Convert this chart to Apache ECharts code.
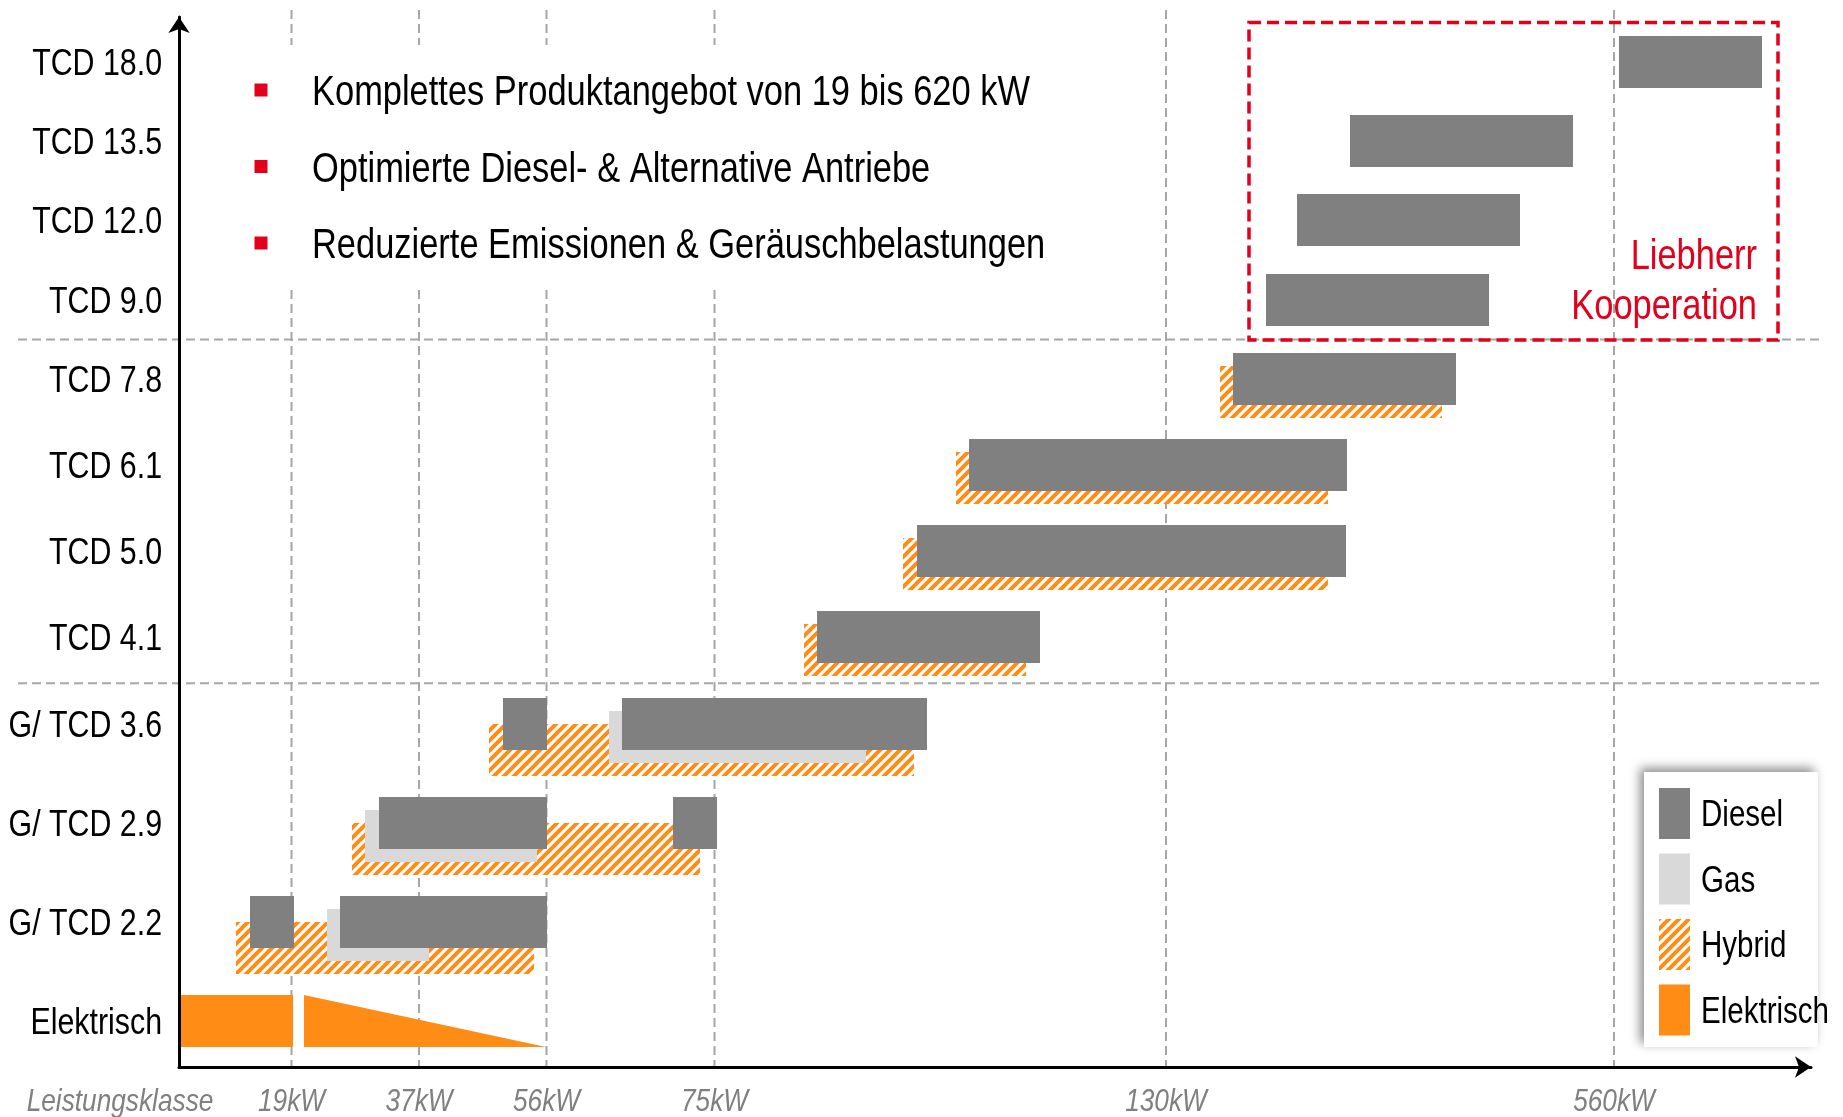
<!DOCTYPE html>
<html>
<head>
<meta charset="utf-8">
<script src="https://cdn.jsdelivr.net/npm/echarts@6/dist/echarts.min.js"></script>
<style>html,body{margin:0;padding:0;background:#fff;}#chart{width:1843px;height:1117px;}</style>
</head>
<body>
<div id="chart"></div>
<script>
// ---------- DATA ----------
// Rows (bottom to top) and their positions on the vertical axis (axis units)
const rowNames = ['Elektrisch','G/ TCD 2.2','G/ TCD 2.9','G/ TCD 3.6','TCD 4.1','TCD 5.0','TCD 6.1','TCD 7.8','TCD 9.0','TCD 12.0','TCD 13.5','TCD 18.0'];
const rowPos   = [46, 145, 244, 343, 430, 516, 602, 688, 767, 847, 926, 1005];
// Power class ticks on the horizontal axis (axis units)
const xTickPos    = [112.5, 240, 367.5, 535.5, 987, 1435];
const xTickLabels = ['19kW', '37kW', '56kW', '75kW', '130kW', '560kW'];
// Bars: [rowIndex, start, end]
const dieselBars = [[1,71,115],[1,161,368],[2,200,368],[2,494,538],[3,324,368],[3,443,748],[4,638,861],[5,738,1167],[6,790,1168],[7,1054,1277],[8,1087,1310],[9,1118,1341],[10,1171,1394],[11,1440,1583]];
const gasBars    = [[1,148,250],[2,186,358],[3,430,687]];
const hybridBars = [[1,57,355],[2,173,521],[3,310,735],[4,625,847],[5,724,1149],[6,777,1149],[7,1041,1263]];
// Electric: [rowIndex, start, end, shape]
const elektrischBars = [[0,0,114,'full'],[0,125,367,'ramp']];
// Section separators (vertical axis units)
const sectionSeps = [383.7, 727.5];
// Liebherr cooperation frame: [x0, x1, y0, y1]
const liebherrBox = [1070, 1599, 727, 1044.5];
const bullets = ['Komplettes Produktangebot von 19 bis 620 kW', 'Optimierte Diesel- & Alternative Antriebe', 'Reduzierte Emissionen & Geräuschbelastungen'];
const legendNames = ['Diesel', 'Gas', 'Hybrid', 'Elektrisch'];
const xAxisTitle = 'Leistungsklasse';

// ---------- STYLE ----------
const FONT = "'Liberation Sans',Arial,sans-serif";
const NARROW = 0.82; // horizontal condensing to mimic Arial Narrow
const C_DIESEL = '#808080', C_GAS = '#D9D9D9', C_ORANGE = '#FF8C14', C_RED = '#E3001B', C_GRID = '#A6A6A6';
const BAR_H = 52, STEP = 13;

function makeHatch() {
  const c = document.createElement('canvas');
  c.width = 10; c.height = 10;
  const g = c.getContext('2d');
  g.fillStyle = '#fff'; g.fillRect(0, 0, 10, 10);
  g.strokeStyle = C_ORANGE; g.lineWidth = 4;
  g.beginPath();
  g.moveTo(-5, 5); g.lineTo(5, -5);
  g.moveTo(0, 10); g.lineTo(10, 0);
  g.moveTo(5, 15); g.lineTo(15, 5);
  g.stroke();
  return { image: c, repeat: 'repeat' };
}
const HATCH = makeHatch();
const legendColors = { Diesel: C_DIESEL, Gas: C_GAS, Hybrid: HATCH, Elektrisch: C_ORANGE };

const gasRows = gasBars.map(b => b[0]);
function toData(arr) { return arr.map(b => [b[1], b[2], rowPos[b[0]], b[0], b[3] || 'full']); }

function barRender(fill, offsetFn) {
  return function (params, api) {
    const s = api.value(0), e = api.value(1), y = api.value(2), row = api.value(3);
    const p0 = api.coord([s, y]), p1 = api.coord([e, y]);
    const h = api.size([0, BAR_H])[1];
    const off = offsetFn(row);
    return { type: 'rect', shape: { x: p0[0], y: p0[1] - h / 2 + off, width: p1[0] - p0[0], height: h }, style: { fill: fill } };
  };
}
function narrowText(text, x, y, font, fill, align, z) {
  return { type: 'text', z: z || 51, x: x, y: y, scaleX: NARROW,
    style: { text: text, x: 0, y: 0, font: font, fill: fill, align: align, verticalAlign: 'middle' } };
}

const chart = echarts.init(document.getElementById('chart'), null, { renderer: 'canvas' });

const option = {
  animation: false,
  backgroundColor: '#fff',
  grid: { left: 179, right: 32, top: 17, bottom: 50, containLabel: false, outerBoundsMode: 'none' },
  xAxis: {
    type: 'value', min: 0, max: 1632, z: 10,
    axisLine: { show: true, onZero: false, symbol: ['none', 'arrow'], symbolSize: [16, 16], lineStyle: { color: '#000', width: 3 } },
    axisTick: { show: false }, splitLine: { show: false }, axisLabel: { show: false }
  },
  yAxis: {
    type: 'value', min: 0, max: 1050, z: 10,
    axisLine: { show: true, onZero: false, symbol: ['none', 'arrow'], symbolSize: [16, 16], lineStyle: { color: '#000', width: 3 } },
    axisTick: { show: false }, splitLine: { show: false }, axisLabel: { show: false }
  },
  legend: {
    orient: 'vertical', left: 1659, top: 788, padding: 0,
    itemWidth: 31, itemHeight: 51, itemGap: 14.5, icon: 'rect', selectedMode: false,
    itemStyle: { borderWidth: 0 },
    formatter: () => '',
    data: legendNames.map(n => ({ name: n, itemStyle: { color: legendColors[n] } }))
  },
  graphic: [
    { type: 'rect', z: 3, shape: { x: 1644, y: 772, width: 174, height: 275 },
      style: { fill: '#fff', shadowBlur: 10, shadowColor: 'rgba(0,0,0,0.45)', shadowOffsetX: -4, shadowOffsetY: -4 } },
    ...legendNames.map((n, i) => narrowText(n, 1701, 816.5 + i * 65.5, '36px ' + FONT, '#000', 'left')),
    { type: 'rect', z: 50, shape: { x: 235, y: 45, width: 830, height: 245 }, style: { fill: '#fff' } },
    ...bullets.map((t, i) => ({ type: 'rect', z: 51, shape: { x: 254.5, y: 83.5 + i * 76.5, width: 13, height: 13 }, style: { fill: C_RED } })),
    ...bullets.map((t, i) => narrowText(t, 312, 93.5 + i * 76.5, '42px ' + FONT, '#000', 'left')),
    narrowText('Liebherr', 1757, 257.5, '42px ' + FONT, C_RED, 'right'),
    narrowText('Kooperation', 1757, 307.5, '42px ' + FONT, C_RED, 'right'),
    narrowText(xAxisTitle, 120, 1102, 'italic 32px ' + FONT, '#808080', 'center')
  ],
  series: [
    { type: 'custom', name: 'grid-v', z: 1, silent: true, data: xTickPos.map(v => [v]),
      encode: { x: 0 },
      renderItem: (params, api) => {
        const p = api.coord([api.value(0), 0]);
        const cs = params.coordSys;
        return { type: 'line', shape: { x1: p[0], y1: cs.y - 7, x2: p[0], y2: cs.y + cs.height },
          style: { stroke: C_GRID, lineWidth: 2, lineDash: [9, 5] } };
      } },
    { type: 'custom', name: 'grid-h', z: 1, silent: true, data: sectionSeps.map(v => [0, v]),
      encode: { x: 0, y: 1 },
      renderItem: (params, api) => {
        const p = api.coord([0, api.value(1)]);
        const cs = params.coordSys;
        return { type: 'line', shape: { x1: cs.x - 161, y1: p[1], x2: cs.x + cs.width + 9, y2: p[1] },
          style: { stroke: C_GRID, lineWidth: 2, lineDash: [9, 5] } };
      } },
    { type: 'custom', name: 'Hybrid', z: 3, itemStyle: { color: HATCH }, data: toData(hybridBars),
      encode: { x: [0, 1], y: 2 },
      renderItem: barRender(HATCH, row => (gasRows.indexOf(row) >= 0 ? 2 : 1) * STEP) },
    { type: 'custom', name: 'Gas', z: 4, itemStyle: { color: C_GAS }, data: toData(gasBars),
      encode: { x: [0, 1], y: 2 },
      renderItem: barRender(C_GAS, row => STEP) },
    { type: 'custom', name: 'Diesel', z: 5, itemStyle: { color: C_DIESEL }, data: toData(dieselBars),
      encode: { x: [0, 1], y: 2 },
      renderItem: barRender(C_DIESEL, row => 0) },
    { type: 'custom', name: 'Elektrisch', z: 5, itemStyle: { color: C_ORANGE }, data: toData(elektrischBars),
      encode: { x: [0, 1], y: 2 },
      renderItem: (params, api) => {
        const s = api.value(0), e = api.value(1), y = api.value(2), shape = api.value(4);
        const p0 = api.coord([s, y]), p1 = api.coord([e, y]);
        const h = api.size([0, BAR_H])[1];
        const top = p0[1] - h / 2, bot = p0[1] + h / 2;
        if (shape === 'ramp') {
          return { type: 'polygon', shape: { points: [[p0[0], top], [p0[0], bot], [p1[0], bot]] }, style: { fill: C_ORANGE } };
        }
        return { type: 'rect', shape: { x: p0[0], y: top, width: p1[0] - p0[0], height: h }, style: { fill: C_ORANGE } };
      } },
    { type: 'custom', name: 'liebherr', z: 6, silent: true, data: [liebherrBox],
      encode: { x: [0, 1], y: [2, 3] },
      renderItem: (params, api) => {
        const a = api.coord([api.value(0), api.value(3)]);
        const b = api.coord([api.value(1), api.value(2)]);
        return { type: 'rect', shape: { x: a[0], y: a[1], width: b[0] - a[0], height: b[1] - a[1] },
          style: { fill: 'none', stroke: C_RED, lineWidth: 3.5, lineDash: [12, 6] } };
      } },
    // Category labels of the vertical axis, placed through the value scale
    { type: 'custom', name: 'row-labels', z: 11, silent: true, data: rowPos.map((v, i) => [0, v, i]),
      encode: { x: 0, y: 1 },
      renderItem: (params, api) => {
        const p = api.coord([0, api.value(1)]);
        return { type: 'text', x: p[0] - 17, y: p[1] + 3, scaleX: NARROW,
          style: { text: rowNames[api.value(2)], x: 0, y: 0, font: '37px ' + FONT, fill: '#000', align: 'right', verticalAlign: 'middle' } };
      } },
    // Power class labels of the horizontal axis
    { type: 'custom', name: 'kw-labels', z: 11, silent: true, data: xTickPos.map((v, i) => [v, 0, i]),
      encode: { x: 0, y: 1 },
      renderItem: (params, api) => {
        const p = api.coord([api.value(0), 0]);
        return { type: 'text', x: p[0], y: p[1] + 35, scaleX: NARROW,
          style: { text: xTickLabels[api.value(2)], x: 0, y: 0, font: 'italic 32px ' + FONT, fill: '#808080', align: 'center', verticalAlign: 'middle' } };
      } }
  ]
};
chart.setOption(option);
</script>
</body>
</html>
